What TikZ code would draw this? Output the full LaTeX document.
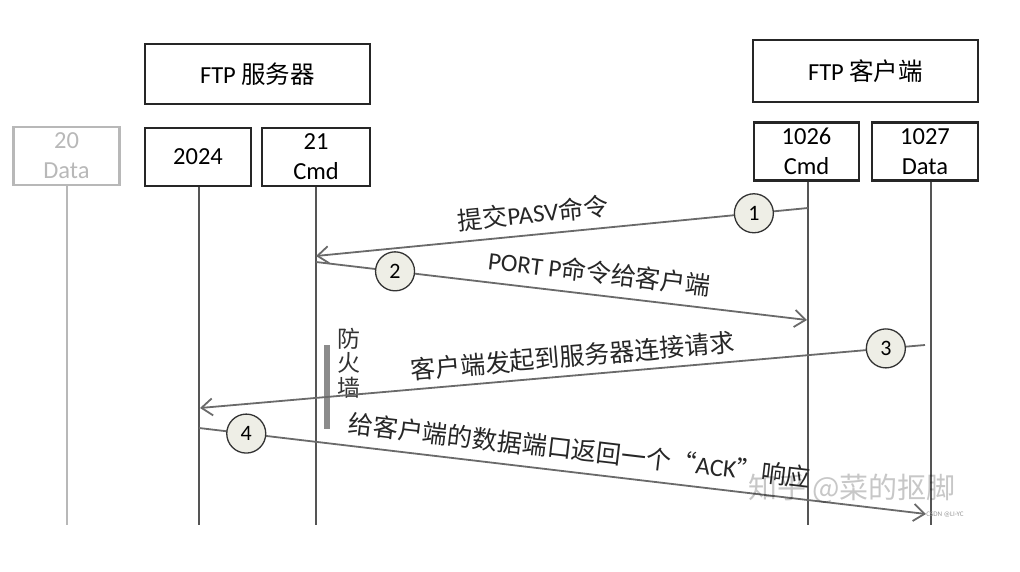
\documentclass[tikz,border=0pt]{standalone}
\usepackage{fontspec}
\setmainfont{Carlito}
\newfontfamily\cjk{Noto Sans CJK SC}
\usetikzlibrary{arrows.meta}
\definecolor{msggray}{HTML}{6A6A6A}
\definecolor{lifegray}{HTML}{555555}
\definecolor{fadegray}{HTML}{B8B8B8}
\definecolor{wallgray}{HTML}{8C8C8C}
\definecolor{numfill}{HTML}{EEEEE6}
\begin{document}
\begin{tikzpicture}[x=1pt, y=-1pt,
  >={Straight Barb[length=11pt, width=17pt]},
  portbox/.style={draw=black!85, line width=2.2pt, minimum width=#1, minimum height=58pt, inner sep=0pt, align=center, font=\fontsize{24.5}{30}\selectfont},
  portbox/.default=106pt,
  life/.style={draw=lifegray, line width=1.4pt},
  msg/.style={draw=msggray, line width=1.8pt},
  num/.style={circle, draw=black!80, fill=numfill, line width=1.3pt, minimum size=39pt, inner sep=0pt, font=\fontsize{22}{22}\selectfont},
  lbl/.style={sloped, inner sep=0pt, text=black!85, font=\fontsize{25}{30}\selectfont}]
  \useasboundingbox (0,0) rectangle (1020,572);
  \node[portbox=225pt, minimum height=60pt] (Srv) at (257.5,74) {FTP {\cjk 服务器}};
  \node[portbox=225pt, minimum height=62pt] (Cli) at (865.5,71) {FTP {\cjk 客户端}};
  \node[portbox, draw=fadegray, text=fadegray] (P20) at (66.5,156) {20\\Data};
  \node[portbox] (P2024) at (198,157) {2024};
  \node[portbox=108pt] (P21) at (316,157) {21\\Cmd};
  \node[portbox=105pt] (P1026) at (806.5,151.5) {1026\\Cmd};
  \node[portbox] (P1027) at (925,151.5) {1027\\Data};
  \coordinate (E20) at (67,525);
  \coordinate (E2024) at (199,525);
  \coordinate (E21) at (316,525);
  \coordinate (E1026) at (808,525);
  \coordinate (E1027) at (931,525);
  \draw[life, draw=fadegray] (E20 |- P20.south) -- (E20);
  \draw[life] (E2024 |- P2024.south) -- (E2024);
  \draw[life] (E21 |- P21.south) -- (E21);
  \draw[life] (E1026 |- P1026.south) -- (E1026);
  \draw[life] (E1027 |- P1027.south) -- (E1027);
  \coordinate (M1a) at (316,256);
  \coordinate (M1b) at (808,208);
  \coordinate (M2a) at (316,262);
  \coordinate (M2b) at (807,320);
  \coordinate (M3a) at (200,408);
  \coordinate (M3b) at (925,345);
  \coordinate (M4a) at (199,428);
  \coordinate (M4b) at (926,514);
  \coordinate (FwTop) at (327,345);
  \coordinate (FwBot) at (327,429);
  \draw[wallgray, line width=6pt] (FwTop) -- (FwBot);
  \node[align=center, inner sep=0pt, text=black!80, font=\cjk\fontsize{23}{24.5}\selectfont] (Fw) at (349,363) {防\\火\\墙};
  \draw[msg, <-] (M1a) -- node[lbl, above=9pt, pos=.445] (L1) {{\cjk 提交}PASV{\cjk 命令}} node[num, pos=.89] (C1) {1} (M1b);
  \draw[msg, ->] (M2a) -- node[lbl, above=10pt, pos=.572] (L2) {PORT P{\cjk 命令给客户端}} node[num, pos=.161] (C2) {2} (M2b);
  \draw[msg, <-] (M3a) -- node[lbl, above=7pt, pos=.516] (L3) {\cjk 客户端发起到服务器连接请求} node[num, pos=.946] (C3) {3} (M3b);
  \draw[msg, ->] (M4a) -- node[lbl, above=10pt, pos=.52] (L4) {{\cjk 给客户端的数据端口返回一个“}ACK{\cjk ”响应}} node[num, pos=.065] (C4) {4} (M4b);
  \node[inner sep=0pt, text=black, text opacity=.22, font=\cjk\fontsize{29}{29}\selectfont] (WM) at (852,489) {知乎 @菜的抠脚};
  \node[inner sep=0pt, text=black!40, font=\fontsize{7}{7}\selectfont] (WM2) at (945,515) {CSDN @LI-YC};
\end{tikzpicture}
\end{document}
